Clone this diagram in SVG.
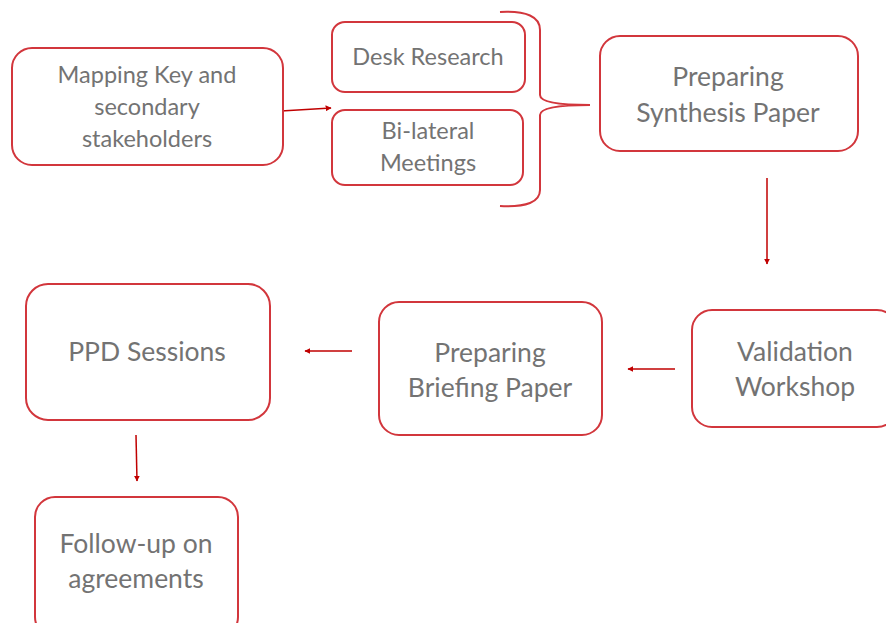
<svg xmlns="http://www.w3.org/2000/svg" width="886" height="623" viewBox="0 0 886 623">
<defs>
<style>
.box{fill:#fff;stroke:#d2363c;stroke-width:2}
.t{font-family:Lato,"Open Sans","Liberation Sans",sans-serif;fill:#737373;text-anchor:middle}
.s{font-size:23.5px}
.b{font-size:26.5px}
.c{stroke:#c00000;stroke-width:1.5;fill:none}
.br{stroke:#d2363c;stroke-width:2;fill:none}
</style>
<marker id="ah" viewBox="0 0 10 10" refX="9" refY="5" markerWidth="6" markerHeight="6" orient="auto" markerUnits="userSpaceOnUse">
<path d="M0,0 L10,5 L0,10 z" fill="#c00000"/>
</marker>
</defs>
<rect width="886" height="623" fill="#fff"/>
<g id="connectors">
<line class="c" x1="281" y1="111" x2="331" y2="108" marker-end="url(#ah)"/>
<path class="br" d="M500,12 Q540,10 540,30 L540,95 Q540,105 590,105 Q540,105 540,115 L540,190 Q540,208 500,206"/>
<line class="c" x1="767" y1="178" x2="767" y2="264" marker-end="url(#ah)"/>
<line class="c" x1="675" y1="369" x2="628" y2="369" marker-end="url(#ah)"/>
<line class="c" x1="352" y1="351" x2="305" y2="351" marker-end="url(#ah)"/>
<line class="c" x1="136" y1="435" x2="137" y2="481" marker-end="url(#ah)"/>
</g>
<g id="mapping">
<rect class="box" x="12" y="48" width="271" height="117" rx="20"/>
<text class="t s" x="147" y="83">Mapping Key and</text>
<text class="t s" x="147" y="115">secondary</text>
<text class="t s" x="147" y="147">stakeholders</text>
</g>
<g id="desk">
<rect class="box" x="332" y="22" width="193" height="70" rx="13"/>
<text class="t s" x="428" y="65">Desk Research</text>
</g>
<g id="bilateral">
<rect class="box" x="332" y="110" width="191" height="75" rx="13"/>
<text class="t s" x="428" y="139">Bi-lateral</text>
<text class="t s" x="428" y="171">Meetings</text>
</g>
<g id="synthesis">
<rect class="box" x="600" y="36" width="258" height="115" rx="20"/>
<text class="t b" x="728" y="86">Preparing</text>
<text class="t b" x="728" y="122">Synthesis Paper</text>
</g>
<g id="validation">
<rect class="box" x="692" y="310" width="205" height="117" rx="20"/>
<text class="t b" x="795" y="361">Validation</text>
<text class="t b" x="795" y="396">Workshop</text>
</g>
<g id="briefing">
<rect class="box" x="379" y="302" width="223" height="133" rx="20"/>
<text class="t b" x="490" y="362">Preparing</text>
<text class="t b" x="490" y="397">Briefing Paper</text>
</g>
<g id="ppd">
<rect class="box" x="26" y="284" width="244" height="136" rx="22"/>
<text class="t b" x="147" y="361">PPD Sessions</text>
</g>
<g id="followup">
<rect class="box" x="35" y="497" width="203" height="140" rx="20"/>
<text class="t b" x="136" y="553">Follow-up on</text>
<text class="t b" x="136" y="588">agreements</text>
</g>
</svg>
